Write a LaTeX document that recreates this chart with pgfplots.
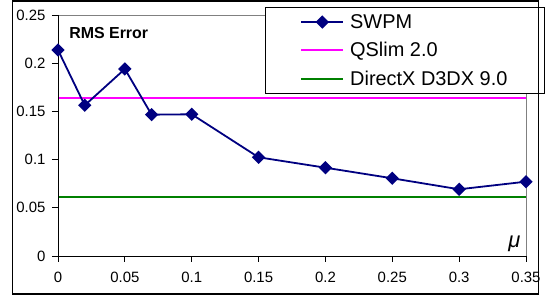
\documentclass[border=0pt]{standalone}
\usepackage{fontspec}
\setmainfont{Liberation Sans}
\usepackage{pgfplots}
\pgfplotsset{compat=1.18}
\definecolor{swpmblue}{RGB}{0,0,128}
\definecolor{dxgreen}{RGB}{0,128,0}
\definecolor{qsmag}{RGB}{255,0,255}
\begin{document}
\begin{tikzpicture}
\useasboundingbox (0,0) rectangle (547bp,302bp);
\begin{axis}[
  at={(58bp,46bp)}, anchor=south west,
  scale only axis, width=468bp, height=241bp,
  xmin=0, xmax=0.35, ymin=0, ymax=0.25,
  clip=false,
  axis line style={draw=none},
  xtick={0,0.05,0.1,0.15,0.2,0.25,0.3,0.35},
  xticklabels={0,0.05,0.1,0.15,0.2,0.25,0.3,0.35},
  ytick={0,0.05,0.1,0.15,0.2,0.25},
  yticklabels={0,0.05,0.1,0.15,0.2,0.25},
  scaled ticks=false,
  tick align=outside, major tick length=6bp,
  tick style={black, line width=0.8bp},
  xtick pos=bottom, ytick pos=left,
  ticklabel style={font=\fontsize{15}{18}\selectfont},
  xticklabel style={yshift=-7bp},
  yticklabel style={xshift=-3bp},
  legend cell align=left,
  legend image code/.code={\draw[mark repeat=2,mark phase=2,#1] plot coordinates {(0bp,0bp) (21bp,0bp) (42bp,0bp)};},
  legend style={at={(0.4423,1.0332)}, anchor=north west, draw=black, fill=white,
    line width=0.8bp, font=\fontsize{20}{23}\selectfont,
    inner xsep=35bp, inner ysep=5bp, row sep=8.5bp,
    /tikz/every odd column/.append style={column sep=4bp}},
]
\addplot[draw=qsmag, line width=1.8bp, forget plot] coordinates {(0,0.1642) (0.175,0.1642) (0.35,0.1642)};
\addplot[color=swpmblue, line width=1.8bp, mark=square*, mark size=3.8bp, mark options={rotate=45, solid, fill=swpmblue}]
  coordinates {(0,0.2137) (0.02,0.1563) (0.05,0.194) (0.07,0.1466) (0.1,0.147)
               (0.15,0.1024) (0.2,0.0916) (0.25,0.0806) (0.3,0.0692) (0.35,0.0771)};
\addlegendentry{SWPM}
\addlegendimage{draw=qsmag, line width=1.8bp}
\addlegendentry{QSlim 2.0}
\addplot[color=dxgreen, line width=1.8bp] coordinates {(0,0.0615) (0.175,0.0615) (0.35,0.0615)};
\addlegendentry{DirectX D3DX 9.0}
\draw[gray, line width=0.8bp] (rel axis cs:0,1) -- (rel axis cs:1,1) -- (rel axis cs:1,0);
\draw[black, line width=0.8bp] (rel axis cs:0,1) -- (rel axis cs:0,0) -- (rel axis cs:1,0);
\node[anchor=base west, font=\fontsize{16}{19}\selectfont\bfseries, inner sep=0pt] at (axis cs:0.0083,0.2258) {RMS Error};
\node[anchor=base, font=\fontsize{22}{26}\selectfont\itshape, inner sep=0pt] at (axis cs:0.3414,0.0093) {μ};
\end{axis}
\draw[black, line width=1.2bp] (12.5bp,8bp) rectangle (538.5bp,301bp);
\end{tikzpicture}
\end{document}
